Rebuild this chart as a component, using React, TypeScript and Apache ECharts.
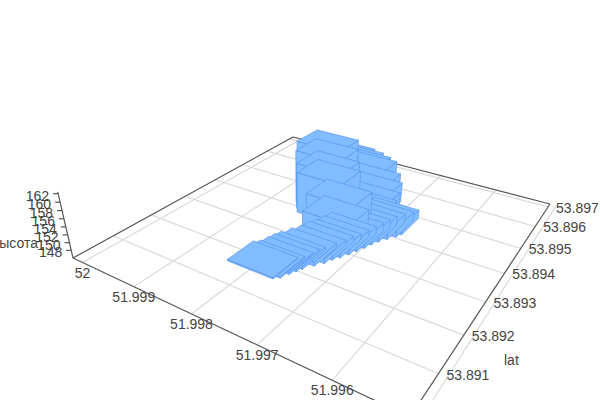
import React, { useEffect, useRef } from "react";
import * as echarts from "echarts";

const lonExtent = [51.9951, 52.0002];
const latExtent = [53.89005, 53.89716];
const heightExtent = [146, 162.4];
const lonTicks = [52, 51.999, 51.998, 51.997, 51.996];
const latTicks = [53.891, 53.892, 53.893, 53.894, 53.895, 53.896, 53.897];
const lonGrid = [52, 51.999, 51.998, 51.997, 51.996, 51.995];
const latGrid = [53.891, 53.892, 53.893, 53.894, 53.895, 53.896, 53.897];
const heightTicks = [148, 150, 152, 154, 156, 158, 160, 162];
const barLon = 0.00078;
const barLat = 0.00078;

const pathLon = [51.998, 51.99793, 51.99788, 51.99784, 51.9978, 51.99771, 51.99763, 51.99758, 51.99752, 51.99746, 51.99741, 51.99736, 51.99732, 51.99727, 51.9972, 51.99712, 51.99708];
const pathLat = [53.89195, 53.89204, 53.89222, 53.89236, 53.89248, 53.89269, 53.89286, 53.89304, 53.89318, 53.89336, 53.89354, 53.89372, 53.8939, 53.89407, 53.89425, 53.89443, 53.89457];
const pathHeight = [146.3, 146.35, 146.5, 146.7, 146.8, 147, 147.2, 147.5, 147.6, 147.8, 148, 148.2, 148.3, 148.4, 148.5, 148.5, 148.4];

const backLon = [51.9982, 51.99804, 51.99789, 51.99776, 51.99764, 51.99755, 51.9975, 51.99745, 51.9974];
const backLat = [53.89535, 53.89535, 53.89531, 53.89528, 53.89517, 53.89503, 53.89481, 53.89453, 53.89432];
const backHeight = [157, 156.5, 156, 155.5, 153, 151.5, 150, 149.5, 149];

const towerLon = [51.99829, 51.99818, 51.99806, 51.99798, 51.99761, 51.99755];
const towerLat = [53.89479, 53.89453, 53.89432, 53.89418, 53.89378, 53.89353];
const towerHeight = [161.5, 160.5, 158.5, 157, 155, 152];

const H = { a: 220.1, b: 356.7, c: 73, d: 40.1, e: -57.1, f: 258, g: -0.2851, h: 0.4666 };
const K = -0.063;
const VX = 300;
const VY = 1240;
const W = 600;
const Ht = 400;

function project(s: number, t: number, z: number) {
  const w = H.g * s + H.h * t + 1 + K * z;
  const x = H.a * s + H.b * t + H.c + K * z * VX;
  const y = H.d * s + H.e * t + H.f + K * z * VY;
  return [x / w, y / w];
}
const zFrac = (v: number) => (v - heightExtent[0]) / (heightExtent[1] - heightExtent[0]);
const unit = (p: number[]) => [p[0] / W, 1 - p[1] / Ht];

const bars = [
  ...pathLon.map((v, i) => [v, pathLat[i], pathHeight[i]]),
  ...backLon.map((v, i) => [v, backLat[i], backHeight[i]]),
  ...towerLon.map((v, i) => [v, towerLat[i], towerHeight[i]]),
];
const depth = (r: number[]) => {
  const s = (lonExtent[1] - r[0]) / (lonExtent[1] - lonExtent[0]);
  const t = (r[1] - latExtent[0]) / (latExtent[1] - latExtent[0]);
  return H.g * s + H.h * t;
};
const sortedBars = [...bars].sort((p, q) => depth(q) - depth(p));

const FILL = "#80bcff";
const EDGE = "#5a96ee";
const AXIS = "#555";
const GRID = "#d9d9d9";
const TEXT = "#444";
const FONT = "14px 'Liberation Sans', Arial, sans-serif";

export default function App() {
  const ref = useRef<HTMLDivElement>(null);
  useEffect(() => {
    document.body.style.margin = "0";
    const chart = echarts.init(ref.current!, null, { renderer: "svg" });
    const line = (p: number[], q: number[], stroke: string) => ({
      type: "line",
      shape: { x1: p[0], y1: p[1], x2: q[0], y2: q[1] },
      style: { stroke, lineWidth: 1.2 },
    });
    const label = (text: string, x: number, y: number, align: string) => ({
      type: "text",
      x,
      y,
      style: { text, font: FONT, fill: TEXT, align, verticalAlign: "middle" },
    });
    chart.setOption({
      animation: false,
      grid: { left: 0, right: 0, top: 0, bottom: 0 },
      xAxis: { type: "value", min: lonExtent[0], max: lonExtent[1], inverse: true, show: false },
      yAxis: { type: "value", min: latExtent[0], max: latExtent[1], show: false, scale: true },
      series: [
        {
          type: "custom",
          silent: true,
          clip: false,
          z: 1,
          data: [[0]],
          renderItem: (_: any, api: any) => {
            const uv = (lon: number, lat: number) => unit(api.coord([lon, lat]));
            const P = (lon: number, lat: number, z = 0) => {
              const [s, t] = uv(lon, lat);
              return project(s, t, z);
            };
            const children: any[] = [];
            lonGrid.forEach((v) => children.push(line(P(v, latExtent[0]), P(v, latExtent[1]), GRID)));
            latGrid.forEach((v) => children.push(line(P(lonExtent[0], v), P(lonExtent[1], v), GRID)));
            const c = [
              P(lonExtent[1], latExtent[0]),
              P(lonExtent[1], latExtent[1]),
              P(lonExtent[0], latExtent[1]),
              P(lonExtent[0], latExtent[0]),
            ];
            for (let i = 0; i < 4; i++) children.push(line(c[i], c[(i + 1) % 4], AXIS));
            const zb = P(lonExtent[1], latExtent[0], 0);
            const zt = P(lonExtent[1], latExtent[0], 1);
            children.push(line(zb, zt, AXIS));
            heightTicks.forEach((v) => {
              const p = P(lonExtent[1], latExtent[0], zFrac(v));
              children.push(line(p, [p[0] - 5, p[1]], AXIS));
              children.push(label(String(v), p[0] - 9, p[1] + 2, "right"));
            });
            children.push(label("высота", 38, 243, "right"));
            lonTicks.forEach((v) => {
              const p = P(v, latExtent[0]);
              children.push(label(String(v), p[0], p[1] + 10, "center"));
            });
            latTicks.forEach((v) => {
              const p = P(lonExtent[0], v);
              children.push(label(v.toFixed(3), p[0] + 8, p[1] + 1, "left"));
            });
            children.push(label("lat", 504, 360, "left"));
            return { type: "group", children };
          },
        },
        {
          type: "custom",
          silent: true,
          clip: false,
          z: 2,
          data: sortedBars,
          encode: { x: 0, y: 1 },
          renderItem: (_: any, api: any) => {
            const lon = api.value(0);
            const lat = api.value(1);
            const z = zFrac(api.value(2));
            const corner = (dl: number, dt: number, zz: number) => {
              const [s, t] = unit(api.coord([lon + (dl * barLon) / 2, lat + (dt * barLat) / 2]));
              return project(s, t, zz);
            };
            const face = (points: number[][]) => ({
              type: "polygon",
              shape: { points },
              style: { fill: FILL, stroke: EDGE, lineWidth: 0.7 },
            });
            const nl = corner(1, -1, 0);
            const nr = corner(-1, -1, 0);
            const fr = corner(-1, 1, 0);
            const tnl = corner(1, -1, z);
            const tnr = corner(-1, -1, z);
            const tfr = corner(-1, 1, z);
            const tfl = corner(1, 1, z);
            return {
              type: "group",
              children: [face([nl, nr, tnr, tnl]), face([nr, fr, tfr, tnr]), face([tnl, tnr, tfr, tfl])],
            };
          },
        },
      ],
    });
    return () => chart.dispose();
  }, []);
  return <div ref={ref} style={{ width: 600, height: 400 }} />;
}
